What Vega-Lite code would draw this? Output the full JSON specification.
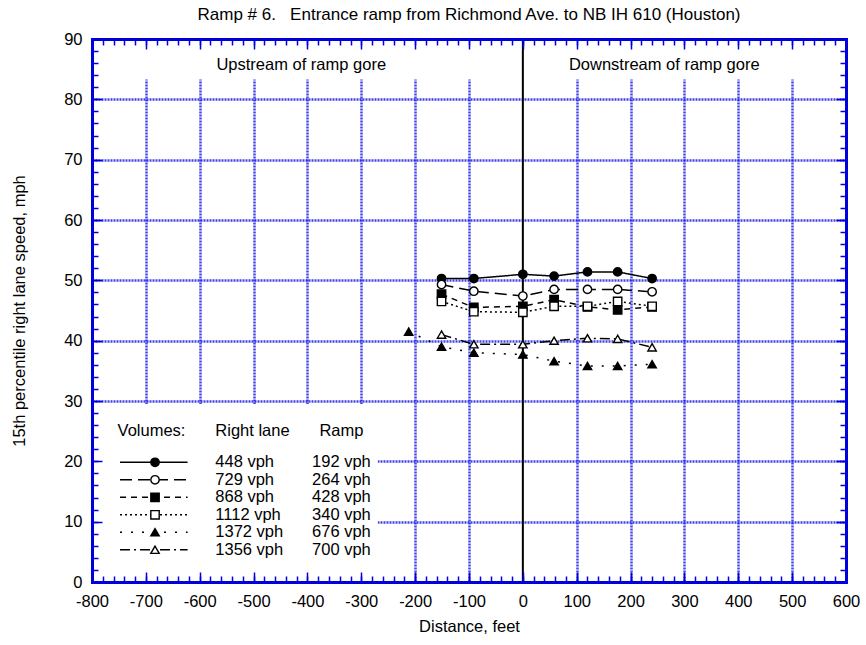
{
  "$schema": "https://vega.github.io/schema/vega-lite/v6.json",
  "width": 754,
  "height": 543,
  "autosize": "none",
  "padding": {"left": 92, "top": 39, "right": 20, "bottom": 63},
  "background": "white",
  "title": {"text": "Ramp # 6.\u00a0\u00a0\u00a0Entrance ramp from Richmond Ave. to NB IH 610 (Houston)", "fontSize": 17, "fontWeight": "normal", "color": "black", "offset": 7, "anchor": "middle"},
  "config": {
    "font": "Liberation Sans",
    "view": {"stroke": null},
    "axis": {"labelFontSize": 16.5, "titleFontSize": 16.5, "labelColor": "black", "titleColor": "black", "titleFontWeight": "normal", "labelFlush": false, "labelOverlap": false},
    "text": {"fontSize": 16.5, "color": "black"}
  },
  "datasets": {
    "speeds": [
      {"series": "448", "distance": -151, "speed": 50.3},
      {"series": "448", "distance": -91, "speed": 50.3},
      {"series": "448", "distance": 0, "speed": 51.0},
      {"series": "448", "distance": 58, "speed": 50.7},
      {"series": "448", "distance": 120, "speed": 51.4},
      {"series": "448", "distance": 176, "speed": 51.4},
      {"series": "448", "distance": 240, "speed": 50.3},
      {"series": "729", "distance": -151, "speed": 49.3},
      {"series": "729", "distance": -91, "speed": 48.2},
      {"series": "729", "distance": 0, "speed": 47.4},
      {"series": "729", "distance": 58, "speed": 48.5},
      {"series": "729", "distance": 120, "speed": 48.5},
      {"series": "729", "distance": 176, "speed": 48.5},
      {"series": "729", "distance": 240, "speed": 48.1},
      {"series": "868", "distance": -151, "speed": 47.7},
      {"series": "868", "distance": -91, "speed": 45.5},
      {"series": "868", "distance": 0, "speed": 45.7},
      {"series": "868", "distance": 58, "speed": 46.8},
      {"series": "868", "distance": 120, "speed": 45.6},
      {"series": "868", "distance": 176, "speed": 45.1},
      {"series": "868", "distance": 240, "speed": 45.6},
      {"series": "1112", "distance": -151, "speed": 46.5},
      {"series": "1112", "distance": -91, "speed": 44.8},
      {"series": "1112", "distance": 0, "speed": 44.7},
      {"series": "1112", "distance": 58, "speed": 45.7},
      {"series": "1112", "distance": 120, "speed": 45.7},
      {"series": "1112", "distance": 176, "speed": 46.5},
      {"series": "1112", "distance": 240, "speed": 45.7},
      {"series": "1372", "distance": -212, "speed": 41.5},
      {"series": "1372", "distance": -151, "speed": 39.0},
      {"series": "1372", "distance": -91, "speed": 38.0},
      {"series": "1372", "distance": 0, "speed": 37.7},
      {"series": "1372", "distance": 58, "speed": 36.6},
      {"series": "1372", "distance": 120, "speed": 35.8},
      {"series": "1372", "distance": 176, "speed": 35.8},
      {"series": "1372", "distance": 240, "speed": 36.1},
      {"series": "1356", "distance": -151, "speed": 41.0},
      {"series": "1356", "distance": -91, "speed": 39.4},
      {"series": "1356", "distance": 0, "speed": 39.4},
      {"series": "1356", "distance": 58, "speed": 40.0},
      {"series": "1356", "distance": 120, "speed": 40.4},
      {"series": "1356", "distance": 176, "speed": 40.3},
      {"series": "1356", "distance": 240, "speed": 38.9}
    ],
    "legend": [
      {"series": "448", "right": "448 vph", "ramp": "192 vph"},
      {"series": "729", "right": "729 vph", "ramp": "264 vph"},
      {"series": "868", "right": "868 vph", "ramp": "428 vph"},
      {"series": "1112", "right": "1112 vph", "ramp": "340 vph"},
      {"series": "1372", "right": "1372 vph", "ramp": "676 vph"},
      {"series": "1356", "right": "1356 vph", "ramp": "700 vph"}
    ]
  },
  "layer": [
    {
      "layer": [
        {
          "data": {"values": [{}]},
          "mark": {"type": "rect", "fill": "white"},
          "encoding": {
            "x": {"datum": -800, "type": "quantitative", "scale": {"domain": [-800, 600], "nice": false, "zero": false},
              "axis": {"orient": "bottom", "grid": true, "gridColor": "#2222e4", "gridDash": [2, 1], "gridWidth": 2.5, "gridOpacity": 0.85, "values": [-700, -600, -500, -400, -300, -200, -100, 100, 200, 300, 400, 500], "ticks": false, "labels": false, "domain": false, "title": null, "zindex": 0}},
            "x2": {"datum": -269.4},
            "y": {"datum": 0, "type": "quantitative", "scale": {"domain": [0, 90], "nice": false, "zero": false},
              "axis": {"orient": "left", "grid": true, "gridColor": "#2222e4", "gridDash": [2, 1], "gridWidth": 2.5, "gridOpacity": 0.85, "values": [10, 20, 30, 40, 50, 60, 70, 80], "ticks": false, "labels": false, "domain": false, "title": null, "zindex": 0}},
            "y2": {"datum": 29.5}
          }
        },
        {
          "data": {"values": [{}]},
          "mark": {"type": "rect", "fill": "white"},
          "encoding": {
            "x": {"datum": -800, "type": "quantitative",
              "axis": {"orient": "bottom", "values": [-800, -700, -600, -500, -400, -300, -200, -100, 0, 100, 200, 300, 400, 500, 600], "labelExpr": "'' + datum.value", "ticks": false, "labelPadding": 11, "domain": true, "domainColor": "#0000dd", "domainWidth": 3, "domainCap": "square", "grid": false, "title": "Distance, feet", "titlePadding": 9, "zindex": 1}},
            "x2": {"datum": 600},
            "y": {"datum": 83.3, "type": "quantitative",
              "axis": {"orient": "left", "values": [0, 10, 20, 30, 40, 50, 60, 70, 80, 90], "ticks": false, "labelPadding": 10, "domain": true, "domainColor": "#0000dd", "domainWidth": 3, "domainCap": "square", "grid": false, "title": "15th percentile right lane speed, mph", "titlePadding": 36, "zindex": 1}},
            "y2": {"datum": 90}
          }
        },
        {
          "data": {"values": [{}]},
          "mark": {"type": "rule", "color": "black", "strokeWidth": 2},
          "encoding": {
            "x": {"datum": 0, "type": "quantitative",
              "axis": {"orient": "bottom", "values": [-800, -700, -600, -500, -400, -300, -200, -100, 0, 100, 200, 300, 400, 500, 600], "tickSize": -10, "tickWidth": 1.5, "tickColor": "#0000dd", "labels": false, "domain": false, "grid": false, "title": null, "zindex": 1}},
            "y": {"datum": 0, "type": "quantitative",
              "axis": {"orient": "left", "values": [0, 10, 20, 30, 40, 50, 60, 70, 80, 90], "tickSize": -10, "tickWidth": 1.5, "tickColor": "#0000dd", "labels": false, "domain": false, "grid": false, "title": null, "zindex": 1}},
            "y2": {"datum": 90}
          }
        },
        {
          "data": {"values": [{}]},
          "mark": {"type": "text", "align": "left", "baseline": "alphabetic", "text": "Upstream of ramp gore"},
          "encoding": {
            "x": {"datum": -569, "type": "quantitative",
              "axis": {"orient": "bottom", "values": [-800, -780, -760, -740, -720, -700, -680, -660, -640, -620, -600, -580, -560, -540, -520, -500, -480, -460, -440, -420, -400, -380, -360, -340, -320, -300, -280, -260, -240, -220, -200, -180, -160, -140, -120, -100, -80, -60, -40, -20, 0, 20, 40, 60, 80, 100, 120, 140, 160, 180, 200, 220, 240, 260, 280, 300, 320, 340, 360, 380, 400, 420, 440, 460, 480, 500, 520, 540, 560, 580, 600], "tickSize": -6, "tickWidth": 1.5, "tickColor": "#0000dd", "labels": false, "domain": false, "grid": false, "title": null, "zindex": 1}},
            "y": {"datum": 84.85, "type": "quantitative",
              "axis": {"orient": "left", "values": [0, 2, 4, 6, 8, 10, 12, 14, 16, 18, 20, 22, 24, 26, 28, 30, 32, 34, 36, 38, 40, 42, 44, 46, 48, 50, 52, 54, 56, 58, 60, 62, 64, 66, 68, 70, 72, 74, 76, 78, 80, 82, 84, 86, 88, 90], "tickSize": -6, "tickWidth": 1.5, "tickColor": "#0000dd", "labels": false, "domain": false, "grid": false, "title": null, "zindex": 1}}
          }
        },
        {
          "data": {"values": [{}]},
          "mark": {"type": "text", "align": "left", "baseline": "alphabetic", "text": "Downstream of ramp gore"},
          "encoding": {
            "x": {"datum": 85.5, "type": "quantitative",
              "axis": {"orient": "top", "values": [-800, -700, -600, -500, -400, -300, -200, -100, 0, 100, 200, 300, 400, 500, 600], "tickSize": -10, "tickWidth": 1.5, "tickColor": "#0000dd", "labels": false, "domain": true, "domainColor": "#0000dd", "domainWidth": 3, "domainCap": "square", "grid": false, "title": null, "zindex": 1}},
            "y": {"datum": 84.85, "type": "quantitative",
              "axis": {"orient": "right", "values": [0, 10, 20, 30, 40, 50, 60, 70, 80, 90], "tickSize": -10, "tickWidth": 1.5, "tickColor": "#0000dd", "labels": false, "domain": true, "domainColor": "#0000dd", "domainWidth": 3, "domainCap": "square", "grid": false, "title": null, "zindex": 1}}
          }
        },
        {
          "data": {"name": "speeds"},
          "mark": {"type": "line", "color": "black", "strokeWidth": 1.5},
          "encoding": {
            "x": {"field": "distance", "type": "quantitative",
              "axis": {"orient": "top", "values": [-800, -780, -760, -740, -720, -700, -680, -660, -640, -620, -600, -580, -560, -540, -520, -500, -480, -460, -440, -420, -400, -380, -360, -340, -320, -300, -280, -260, -240, -220, -200, -180, -160, -140, -120, -100, -80, -60, -40, -20, 0, 20, 40, 60, 80, 100, 120, 140, 160, 180, 200, 220, 240, 260, 280, 300, 320, 340, 360, 380, 400, 420, 440, 460, 480, 500, 520, 540, 560, 580, 600], "tickSize": -6, "tickWidth": 1.5, "tickColor": "#0000dd", "labels": false, "domain": false, "grid": false, "title": null, "zindex": 1}},
            "y": {"field": "speed", "type": "quantitative",
              "axis": {"orient": "right", "values": [0, 2, 4, 6, 8, 10, 12, 14, 16, 18, 20, 22, 24, 26, 28, 30, 32, 34, 36, 38, 40, 42, 44, 46, 48, 50, 52, 54, 56, 58, 60, 62, 64, 66, 68, 70, 72, 74, 76, 78, 80, 82, 84, 86, 88, 90], "tickSize": -6, "tickWidth": 1.5, "tickColor": "#0000dd", "labels": false, "domain": false, "grid": false, "title": null, "zindex": 1}},
            "strokeDash": {"field": "series", "type": "nominal",
              "scale": {"domain": ["448", "729", "868", "1112", "1372", "1356"], "range": [[1, 0], [12, 6], [6, 5], [2, 3], [2, 9], [10, 4, 2, 4]]}, "legend": null}
          }
        },
        {
          "data": {"name": "speeds"},
          "mark": {"type": "point", "filled": true, "stroke": "black", "strokeWidth": 1.4, "opacity": 1},
          "encoding": {
            "x": {"field": "distance", "type": "quantitative", "axis": null},
            "y": {"field": "speed", "type": "quantitative", "axis": null},
            "shape": {"field": "series", "type": "nominal",
              "scale": {"domain": ["448", "729", "868", "1112", "1372", "1356"], "range": ["circle", "circle", "square", "square", "triangle-up", "triangle-up"]}, "legend": null},
            "fill": {"field": "series", "type": "nominal",
              "scale": {"domain": ["448", "729", "868", "1112", "1372", "1356"], "range": ["black", "white", "black", "white", "black", "white"]}, "legend": null},
            "size": {"field": "series", "type": "nominal",
              "scale": {"domain": ["448", "729", "868", "1112", "1372", "1356"], "range": [70, 70, 72, 72, 85, 85]}, "legend": null}
          }
        }
      ],
      "resolve": {"axis": {"x": "independent", "y": "independent"}}
    },
    {
      "data": {"name": "legend"},
      "layer": [
        {
          "mark": {"type": "rule", "color": "black", "strokeWidth": 1.5},
          "encoding": {
            "x": {"datum": -748, "type": "quantitative", "axis": null},
            "x2": {"datum": -622.5},
            "y": {"field": "series", "type": "ordinal", "sort": ["448", "729", "868", "1112", "1372", "1356"],
              "scale": {"type": "point", "domain": ["448", "729", "868", "1112", "1372", "1356"], "range": [423.3, 510.8], "padding": 0}, "axis": null},
            "strokeDash": {"field": "series", "type": "nominal", "legend": null}
          }
        },
        {
          "mark": {"type": "point", "filled": true, "stroke": "black", "strokeWidth": 1.4, "opacity": 1},
          "encoding": {
            "x": {"datum": -683, "type": "quantitative", "axis": null},
            "y": {"field": "series", "type": "ordinal", "axis": null},
            "shape": {"field": "series", "type": "nominal", "legend": null},
            "fill": {"field": "series", "type": "nominal", "legend": null},
            "size": {"field": "series", "type": "nominal", "legend": null}
          }
        },
        {
          "mark": {"type": "text", "align": "left", "baseline": "middle"},
          "encoding": {
            "x": {"datum": -571, "type": "quantitative", "axis": null},
            "y": {"field": "series", "type": "ordinal", "axis": null},
            "text": {"field": "right"}
          }
        },
        {
          "mark": {"type": "text", "align": "left", "baseline": "middle"},
          "encoding": {
            "x": {"datum": -391.4, "type": "quantitative", "axis": null},
            "y": {"field": "series", "type": "ordinal", "axis": null},
            "text": {"field": "ramp"}
          }
        },
        {
          "data": {"values": [{}]},
          "mark": {"type": "text", "align": "left", "baseline": "middle", "y": 391.7, "text": "Volumes:"},
          "encoding": {"x": {"datum": -752.5, "type": "quantitative", "axis": null}}
        },
        {
          "data": {"values": [{}]},
          "mark": {"type": "text", "align": "left", "baseline": "middle", "y": 391.7, "text": "Right lane"},
          "encoding": {"x": {"datum": -571, "type": "quantitative", "axis": null}}
        },
        {
          "data": {"values": [{}]},
          "mark": {"type": "text", "align": "left", "baseline": "middle", "y": 391.7, "text": "Ramp"},
          "encoding": {"x": {"datum": -377.8, "type": "quantitative", "axis": null}}
        }
      ]
    }
  ],
  "resolve": {"scale": {"y": "independent"}, "axis": {"x": "independent", "y": "independent"}}
}
